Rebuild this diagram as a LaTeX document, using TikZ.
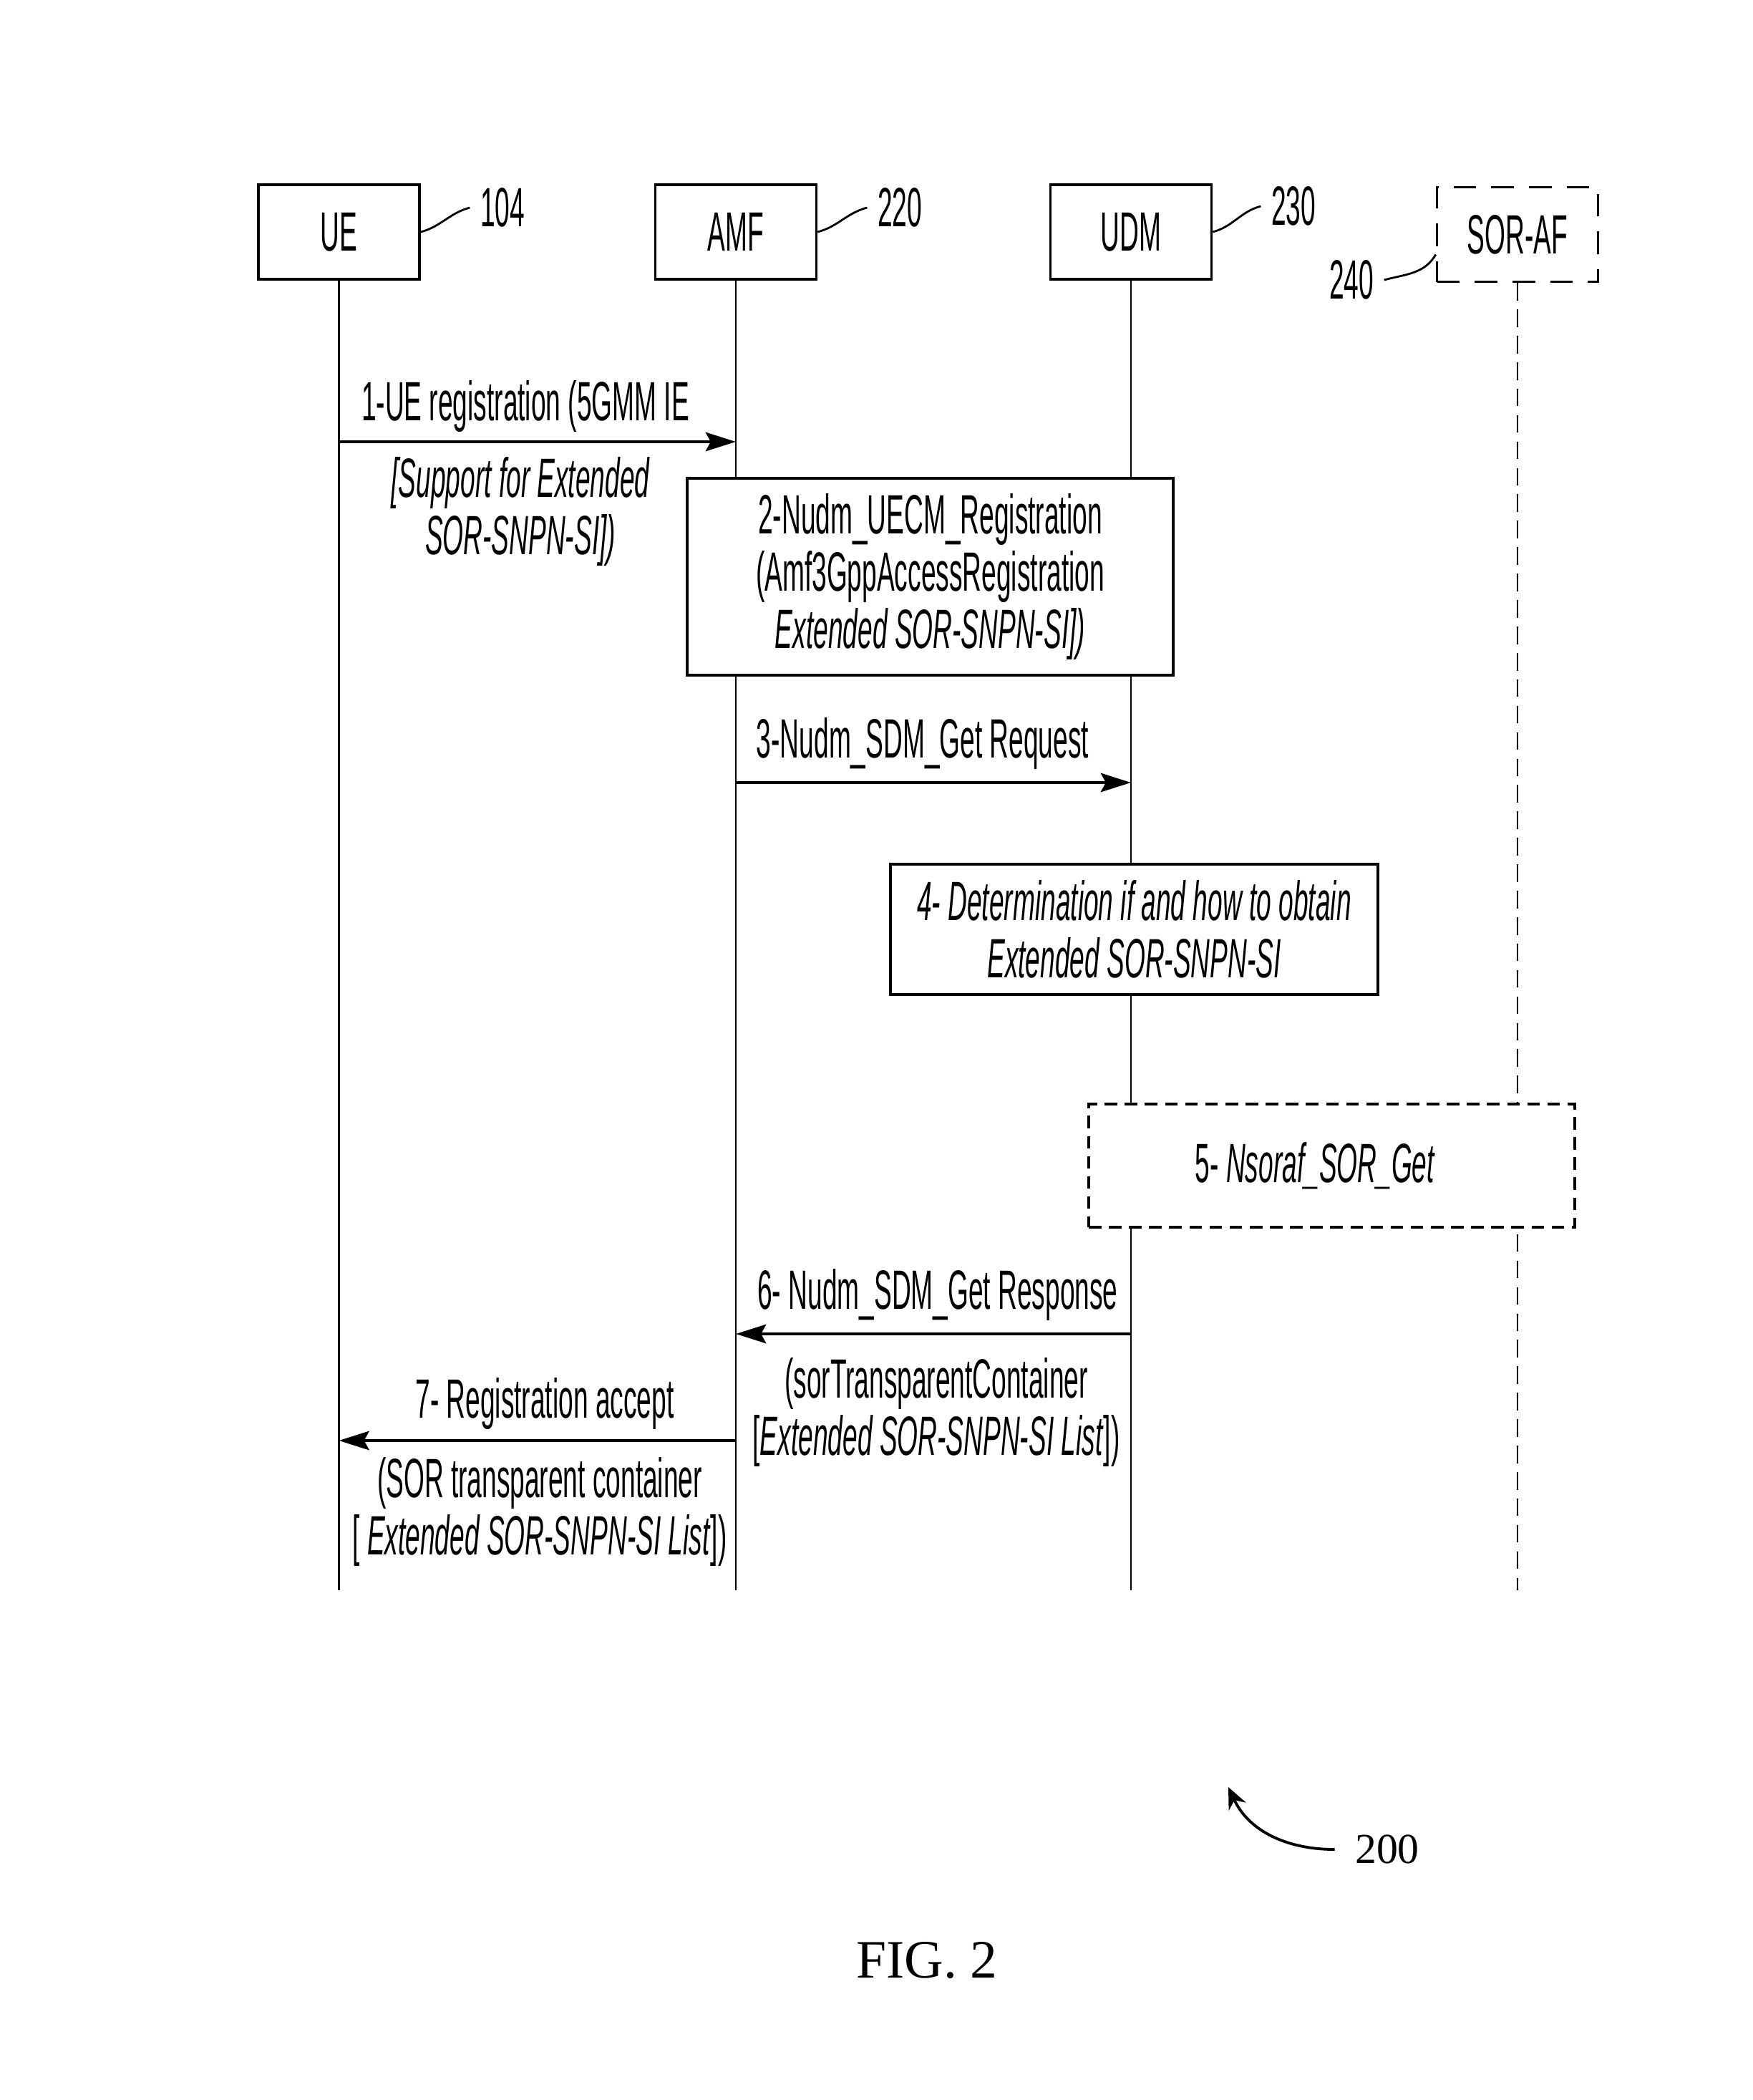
\documentclass[tikz,border=0pt]{standalone}
\usepackage{fontspec}
\setmainfont{Liberation Serif}
\newfontfamily\narrowsf[FakeStretch=0.48]{Liberation Sans}
\newcommand\msgfont{\narrowsf\fontsize{22}{22.8}\selectfont}
\usetikzlibrary{arrows.meta}

\begin{document}
\begin{tikzpicture}[>={Stealth[length=12pt,width=7.5pt,inset=2pt]},
    entity/.style={draw, line width=1pt, fill=white, minimum width=2.25cm, minimum height=1.32cm, inner sep=0pt, font=\msgfont},
    lifeline/.style={line width=0.7pt},
    msg/.style={->, line width=1.2pt},
    stepbox/.style={draw, line width=1pt, fill=white, inner sep=0pt, align=center, font=\msgfont},
    txt/.style={inner sep=0pt, align=center, font=\msgfont},
    ital/.style={font=\msgfont\itshape},
    refnum/.style={inner sep=0.14cm, font=\msgfont},
    leader/.style={line width=0.8pt}]
    \useasboundingbox (0,0) rectangle (24.49,-29.33);

    % 实体
    \node[entity] (ue) at (4.735,-3.24) {UE};
    \node[entity] (amf) at (10.28,-3.24) {AMF};
    \node[entity] (udm) at (15.80,-3.24) {UDM};
    \node[entity, dash pattern=on 9pt off 6pt] (soraf) at (21.20,-3.275) {SOR-AF};

    % 生命线
    \coordinate (ueEnd) at (ue |- 0,-22.21);
    \coordinate (amfEnd) at (amf |- 0,-22.21);
    \coordinate (udmEnd) at (udm |- 0,-22.21);
    \coordinate (sorafEnd) at (soraf |- 0,-22.21);
    \draw[lifeline] (ue.south) -- (ueEnd);
    \draw[lifeline] (amf.south) -- (amfEnd);
    \draw[lifeline] (udm.south) -- (udmEnd);
    \draw[lifeline, dash pattern=on 7pt off 3.5pt] (soraf.south) -- (sorafEnd);

    % 编号及引线
    \node[refnum] (n104) at (7.02,-2.90) {104};
    \node[refnum] (n220) at (12.57,-2.90) {220};
    \node[refnum] (n230) at (18.07,-2.88) {230};
    \node[refnum] (n240) at (18.88,-3.91) {240};
    \draw[leader] (ue.east) to[out=15,in=195] (n104.west);
    \draw[leader] (amf.east) to[out=15,in=195] (n220.west);
    \draw[leader] (udm.east) to[out=15,in=195] (n230.west);
    \draw[leader] (n240.east) to[out=15,in=240] ([yshift=-0.28cm]soraf.west);

    % 1 注册
    \coordinate (m1a) at (ue |- 0,-6.17);
    \coordinate (m1b) at (amf |- 0,-6.17);
    \draw[msg] (m1a) -- (m1b);
    \node[txt, anchor=base] (m1top) at (7.34,-5.87) {1-UE registration (5GMM IE};
    \node[txt, ital, anchor=north] (m1bot) at (7.27,-6.38) {[Support for Extended\\SOR-SNPN-SI])};

    % 2 UECM
    \node[stepbox, minimum width=6.79cm, minimum height=2.75cm] (uecm) at (12.995,-8.055)
        {2-Nudm\_UECM\_Registration\\(Amf3GppAccessRegistration\\\textit{Extended SOR-SNPN-SI])}};

    % 3 请求
    \coordinate (m3a) at (amf |- 0,-10.93);
    \coordinate (m3b) at (udm |- 0,-10.93);
    \draw[msg] (m3a) -- (m3b);
    \node[txt, anchor=base] (m3top) at (12.89,-10.58) {3-Nudm\_SDM\_Get Request};

    % 4 判断
    \node[stepbox, ital, minimum width=6.81cm, minimum height=1.82cm] (determ) at (15.845,-12.98)
        {4- Determination if and how to obtain\\Extended SOR-SNPN-SI};

    % 5 SOR-AF
    \node[stepbox, dash pattern=on 5pt off 3pt, minimum width=6.79cm, minimum height=1.72cm] (sorget) at (18.605,-16.28)
        {5- \textit{Nsoraf\_SOR\_Get}\kern0.46cm};

    % 6 响应
    \coordinate (m6a) at (udm |- 0,-18.63);
    \coordinate (m6b) at (amf |- 0,-18.63);
    \draw[msg] (m6a) -- (m6b);
    \node[txt, anchor=base] (m6top) at (13.10,-18.28) {6- Nudm\_SDM\_Get Response};
    \node[txt, anchor=north] (m6bot) at (13.08,-18.96) {(sorTransparentContainer\\{[}\textit{Extended SOR-SNPN-SI List}])};

    % 7 接受
    \coordinate (m7a) at (amf |- 0,-20.12);
    \coordinate (m7b) at (ue |- 0,-20.12);
    \draw[msg] (m7a) -- (m7b);
    \node[txt, anchor=base] (m7top) at (7.61,-19.80) {7- Registration accept};
    \node[txt, anchor=north] (m7bot) at (7.54,-20.35) {(SOR transparent container\\{[} \textit{Extended SOR-SNPN-SI List}])};

    % 图号
    \node[font=\fontsize{17}{20}\selectfont, inner xsep=0.28cm, inner ysep=0pt] (n200) at (19.38,-25.83) {200};
    \coordinate (tip200) at (17.16,-24.96);
    \draw[-{Stealth[length=8.5pt,width=7.5pt]}, line width=1.1pt] (n200.west) to[out=180,in=-65] (tip200);
    \node[font=\fontsize{21.5}{24}\selectfont, anchor=base] (figcap) at (12.95,-27.62) {FIG. 2};
\end{tikzpicture}
\end{document}
